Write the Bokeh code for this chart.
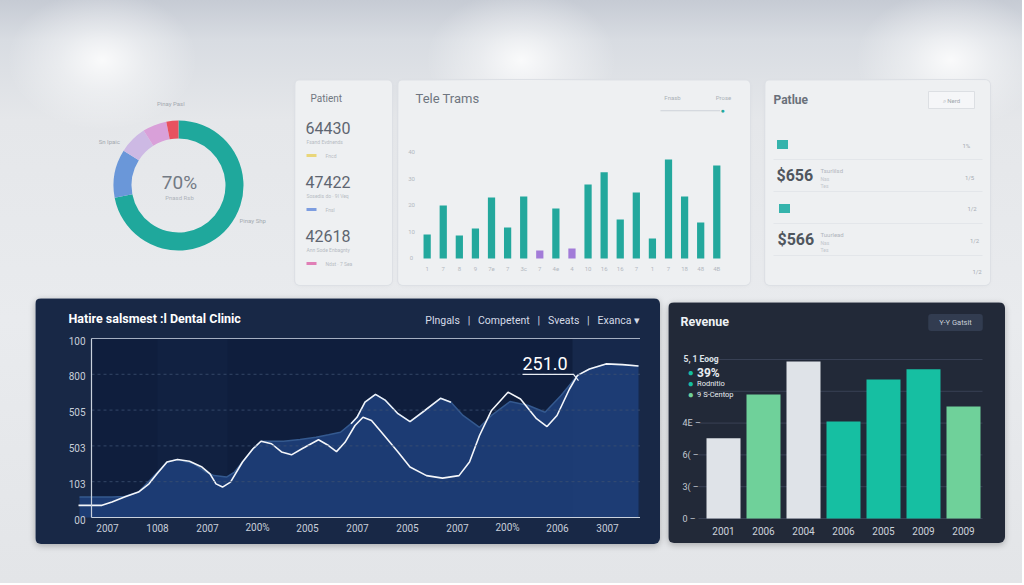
import math
from bokeh.plotting import figure
from bokeh.models import Label, Spacer, Range1d, BoxAnnotation, ColumnDataSource
from bokeh.layouts import row, column
from bokeh.embed import file_html
from bokeh.resources import INLINE
from bokeh.core.properties import value

FONT = "Roboto"
NB = "\u00a0"

# ---------------- data ----------------
donut_labels = ["Pinay Shp", "Sn Ipaic", "Pinay Lsd", "Pinay Rsd", "Pinay Pasl"]
donut_values = [72, 12, 7, 6, 3]
donut_colors = ["#1fa89c", "#6a97d9", "#cdb9e4", "#d9a0d9", "#e8525f"]
donut_center_text = "70%"
donut_center_sub = "Pnasd Rsb"

patient_title = "Patient"
patient_values = ["64430", "47422", "42618"]
patient_notes = ["Fsand Evdnends", "Sosedis do \u00b7 9l Veq", "Ann Sode Enbagnty"]
patient_keys = ["Fncd", "Fnsl", "Ndst \u00b7 7 Sea"]
patient_key_colors = ["#e9d67a", "#7d9de0", "#e07fb6"]

tele_title = "Tele Trams"
tele_labels = ["1", "7", "8", "9", "7e", "7", "3c", "7", "4e", "4", "10", "16", "16", "7", "1", "7", "18", "48", "4B"]
tele_values = [9.1, 20.0, 8.7, 11.3, 23.0, 11.7, 23.4, 3.0, 18.9, 3.8, 27.9, 32.5, 14.7, 24.9, 7.5, 37.4, 23.4, 13.6, 35.1]
tele_groups = ["a", "a", "a", "a", "a", "a", "a", "b", "a", "b", "a", "a", "a", "a", "a", "a", "a", "a", "a"]
tele_yticks = [0, 10, 20, 30, 40]
tele_ytick_labels = ["0", "10", "20", "30", "40"]

patlue_title = "Patlue"
patlue_amounts = ["$656", "$566"]
patlue_notes = ["Tsurlilsd", "Tuurlead"]
patlue_right = ["1%", "1/5", "1/2", "1/2", "1/2"]

line_title = "Hatire salsmest :l Dental Clinic"
line_menu_items = ["Plngals", "Competent", "Sveats", "Exanca \u25be"]
line_xlabels = ["2007", "1008", "2007", "200%", "2005", "2007", "2005", "2007", "200%", "2006", "3007"]
line_ylabels = ["00", "103", "503", "505", "800", "100"]
line_x = [-0.58, -0.11, 0.09, 0.34, 0.62, 0.83, 0.99, 1.19, 1.40, 1.64, 1.89, 2.05, 2.17, 2.30,
          2.46, 2.70, 2.91, 3.07, 3.28, 3.48, 3.68, 3.89, 4.22, 4.42, 4.58, 4.75, 4.95, 5.11,
          5.28, 5.48, 5.81, 6.05, 6.38, 6.70, 7.03, 7.24, 7.44, 7.68, 8.01, 8.26, 8.58, 8.79,
          8.99, 9.24, 9.40, 9.64, 9.97, 10.30, 10.62]
line_y = [0.34, 0.34, 0.43, 0.57, 0.71, 0.94, 1.22, 1.55, 1.62, 1.57, 1.41, 1.22, 0.94, 0.85,
          0.99, 1.55, 1.92, 2.13, 2.06, 1.83, 1.75, 1.92, 2.17, 2.01, 1.84, 2.10, 2.57, 2.80,
          2.71, 2.38, 1.83, 1.41, 1.17, 1.10, 1.17, 1.55, 2.29, 2.99, 3.50, 3.31, 2.76, 2.54,
          2.85, 3.59, 3.97, 4.15, 4.29, 4.27, 4.23]
area_x = [-0.56, 0.09, 0.34, 0.62, 0.91, 1.19, 1.40, 1.73, 1.97, 2.13, 2.38, 2.54, 2.70, 2.91,
          3.07, 3.52, 3.85, 4.17, 4.42, 4.66, 4.87, 4.99, 5.15, 5.36, 5.56, 5.81, 6.05, 6.30,
          6.66, 6.87, 7.11, 7.44, 7.68, 8.05, 8.42, 8.75, 9.07, 9.40, 9.64, 9.97, 10.30, 10.62]
area_y = [0.57, 0.57, 0.59, 0.71, 1.13, 1.55, 1.62, 1.50, 1.27, 1.17, 1.13, 1.27, 1.55, 1.92,
          2.13, 2.13, 2.18, 2.24, 2.31, 2.38, 2.62, 2.80, 3.22, 3.44, 3.27, 2.90, 2.68, 2.94,
          3.33, 3.22, 2.85, 2.52, 2.85, 3.24, 3.13, 2.94, 3.41, 3.97, 4.15, 4.29, 4.27, 4.23]
line_callout = "251.0"
line_callout_index = 44

rev_title = "Revenue"
rev_button = "Y-Y Gatsit"
rev_labels = ["2001", "2006", "2004", "2006", "2005", "2009", "2009"]
rev_values = [25.2, 39.0, 49.4, 30.5, 43.7, 46.9, 35.2]
rev_kinds = ["white", "green", "white", "teal", "teal", "teal", "green"]
rev_yticks = [0, 10, 20, 30, 40, 50]
rev_ytick_labels = ["0", "3(", "6(", "4E", "", ""]
rev_legend_head = "5, 1 Eoog"
rev_legend = ["39%", "Rodnitio", "9 S-Centop"]
rev_legend_kinds = ["teal", "teal", "green"]

# ---------------- styles ----------------
CARD = "#eef0f2"
TEAL = "#23a89d"
REV_COLORS = {"white": "#dfe3e8", "green": "#6fd19a", "teal": "#16bfa2"}
card_style = {"box-shadow": "0 0 0 1px #dde0e5, 0 1px 4px rgba(0,0,0,0.04)", "border-radius": "5px",
              "overflow": "hidden"}
dark_style = {"border-radius": "6px", "overflow": "hidden", "box-shadow": "0 2px 6px rgba(0,0,0,0.25)"}
donut_label_pos = {0: 0.32, 1: 0.84, 4: 0.985}


def make_fig(w, h, xr, yr, bg, styles=None):
    # the frame fills the whole figure; axes are drawn from the data with text glyphs
    p = figure(width=w, height=h, x_range=Range1d(*xr), y_range=Range1d(*yr),
               output_backend="svg", toolbar_location=None, min_border=0,
               x_axis_type=None, y_axis_type=None,
               background_fill_color=bg, border_fill_color=bg)
    p.outline_line_color = None
    p.grid.visible = False
    if styles:
        p.styles = styles
    return p


def txt(p, x, y, t, size, color, align="left", style="normal", baseline="middle"):
    xs = x if isinstance(x, list) else [x]
    ys = y if isinstance(y, list) else [y]
    ts = t if isinstance(t, list) else [t]
    p.text(x=xs, y=ys, text=ts, text_font=value(FONT), text_font_size=size,
           text_color=color, text_align=align, text_baseline=baseline, text_font_style=style)


def lab(p, x, y, t, size, color, align="left", style="normal", baseline="middle", **kw):
    p.add_layout(Label(x=x, y=y, text=t, text_font=FONT, text_font_size=size, text_color=color,
                       text_align=align, text_baseline=baseline, text_font_style=style, **kw))


# ---------------- donut ----------------
d = make_fig(210, 205, (0, 210), (0, 205), None)
cx, cy = 101, 100
tot = float(sum(donut_values))
starts, ends = [], []
acc = 0.0
for v in donut_values:
    starts.append(math.pi / 2 - 2 * math.pi * acc / tot)
    acc += v
    ends.append(math.pi / 2 - 2 * math.pi * acc / tot)
d.annular_wedge(x=cx, y=cy, inner_radius=47, outer_radius=65, start_angle="s", end_angle="e",
                direction="clock", fill_color="c", line_color=None,
                source=ColumnDataSource(dict(s=starts, e=ends, c=donut_colors)))
txt(d, cx + 1, cy + 3, donut_center_text, "19px", "#737a84", align="center")
txt(d, cx + 1, cy - 12, donut_center_sub, "6px", "#aeb3ba", align="center")
for i, f in donut_label_pos.items():
    a = math.pi / 2 - 2 * math.pi * f
    txt(d, cx + 82 * math.cos(a), cy + 82 * math.sin(a), donut_labels[i], "6px", "#a3a9b0", align="center")

# ---------------- patient ----------------
pt = make_fig(97, 205, (0, 97), (0, 205), CARD, styles=card_style)
txt(pt, 15, 187, patient_title, "10px", "#707781")
for i, v in enumerate(patient_values):
    y0 = 158 - i * 54
    txt(pt, 10, y0, v, "16px", "#5e6570")
    txt(pt, 11, y0 - 14, patient_notes[i], "5px", "#b7bcc3")
    pt.rect(x=[16], y=[y0 - 28], width=10, height=3, fill_color=patient_key_colors[i], line_color=None)
    txt(pt, 30, y0 - 28, patient_keys[i], "5px", "#b7bcc3")

# ---------------- tele trams ----------------
t = make_fig(352, 205, (-1.781, 20.096), (-10.19, 67.17), CARD, styles=card_style)
tcol = [TEAL if g == "a" else "#a27bd8" for g in tele_groups]
t.vbar(x=list(range(len(tele_values))), top=tele_values, width=0.45, fill_color=tcol, line_color=None)
txt(t, list(range(len(tele_labels))), [-3.9] * len(tele_labels), tele_labels, "6px", "#b3b8bf", align="center")
txt(t, [-0.973] * len(tele_yticks), tele_yticks, tele_ytick_labels, "6px", "#b3b8bf", align="center")
lab(t, -0.724, 60.4, tele_title, "13px", "#6f7680")
lab(t, 15.25, 60.8, "Fnasb", "6px", "#aab0b7", align="center")
lab(t, 18.42, 60.8, "Prose", "6px", "#aab0b7", align="center")
t.add_layout(BoxAnnotation(left=14.5, right=18.2, bottom=55.6, top=55.95, fill_color="#cdd2d8",
                           fill_alpha=1, line_color=None))
lab(t, 18.36, 55.8, "\u25cf", "7px", TEAL, align="center")

# ---------------- patlue ----------------
pl = make_fig(225, 205, (0, 225), (0, 205), CARD, styles=card_style)
txt(pl, 8, 186, patlue_title, "12px", "#6a707a", style="bold")
pl.rect(x=[186], y=[185.5], width=46, height=17, fill_color="#f5f6f8", line_color="#dcdfe3")
txt(pl, 186, 185.5, "\u2315 Nerd", "6px", "#a0a6ad", align="center")
for i, amt in enumerate(patlue_amounts):
    y0 = 110 - i * 64
    pl.rect(x=[17 + 2 * i], y=[y0 + 31], width=11, height=9, fill_color="#35b3ac", line_color=None)
    txt(pl, 11 + i, y0, amt, "16px", "#50565e", style="bold")
    txt(pl, 55, y0 + 5, patlue_notes[i], "6px", "#b0b5bc")
    txt(pl, 55, y0 - 3, "Nas", "5px", "#c2c6cc")
    txt(pl, 55, y0 - 10, "Tes", "5px", "#c2c6cc")
for i, s in enumerate(patlue_right):
    txt(pl, 197 + i * 2.5, 140 - i * 31.5, s, "6px", "#a7adb4")
for yy in (126, 94, 62, 30):
    pl.segment(x0=[8], y0=[yy], x1=[217], y1=[yy], line_color="#e3e6ea", line_width=1)

# ---------------- line chart ----------------
X0, X1 = -0.32, 10.65
L = make_fig(625, 246, (-1.44, 11.06), (-0.754, 6.117), "#182846", styles=dark_style)
L.add_layout(BoxAnnotation(left=X0, right=X1, bottom=0, top=5, fill_color="#0f1e3d",
                           fill_alpha=1, line_color=None, level="underlay"))
L.add_layout(BoxAnnotation(left=1.0, right=2.4, bottom=0, top=5, fill_color="#22375c",
                           fill_alpha=0.15, line_color=None, level="underlay"))
L.add_layout(BoxAnnotation(left=9.3, right=X1, bottom=0, top=5, fill_color="#27416e",
                           fill_alpha=0.3, line_color=None, level="underlay"))
L.varea(x=area_x, y1=0, y2=area_y, fill_color="#1e3d76", fill_alpha=0.95)
L.line(area_x, area_y, line_color="#34598f", line_width=1.5)
L.line(area_x[20:30], area_y[20:30], line_color="#eef2f8", line_width=1.6)
L.line(line_x, line_y, line_color="#f4f6fa", line_width=1.6)
ny = len(line_ylabels)
L.segment(x0=[X0] * (ny - 2), x1=[X1] * (ny - 2), y0=list(range(1, ny - 1)), y1=list(range(1, ny - 1)),
          line_color="#3d5072", line_dash="3 3", line_alpha=0.8)
L.segment(x0=[X0], x1=[X1], y0=[ny - 1], y1=[ny - 1], line_color="#a7b2c3", line_width=1)
L.segment(x0=[X0], x1=[X1], y0=[0], y1=[0], line_color="#c9d1dd", line_width=1.2)
L.segment(x0=[X0], x1=[X0], y0=[0], y1=[ny - 1], line_color="#c9d1dd", line_width=1.2)
txt(L, [-0.44] * ny, [k - 0.06 for k in range(ny)], line_ylabels, "10px", "#c7ced9", align="right")
txt(L, list(range(len(line_xlabels))), [-0.29] * len(line_xlabels), line_xlabels, "10px", "#c7ced9",
    align="center")
lab(L, -0.78, 5.56, line_title, "12.5px", "#ffffff", style="bold")
sep = NB * 3 + "|" + NB * 3
lab(L, X1, 5.5, sep.join(line_menu_items), "10.5px", "#d5dbe6", align="right")
ax_, ay_ = line_x[line_callout_index], line_y[line_callout_index]
lab(L, ax_ - 1.1, ay_ + 0.15, line_callout, "18px", "#ffffff", baseline="bottom")
L.line([ax_ - 1.1, ax_ - 0.08, ax_ + 0.02], [ay_ + 0.03, ay_ + 0.03, ay_ - 0.15],
       line_color="#e8ecf2", line_width=1.2)

# ---------------- revenue ----------------
R = make_fig(337, 241, (-1.375, 7.05), (-7.86, 67.92), "#222938", styles=dark_style)
R.segment(x0=[-0.625] * len(rev_yticks), x1=[6.475] * len(rev_yticks), y0=rev_yticks, y1=rev_yticks,
          line_color="#394155", line_width=1)
R.vbar(x=list(range(len(rev_values))), top=rev_values, width=0.85,
       fill_color=[REV_COLORS[k] for k in rev_kinds], line_color=None)
txt(R, [-1.025] * len(rev_yticks), rev_yticks, [s + " \u2013" if s else "" for s in rev_ytick_labels],
    "9px", "#c4cad3")
txt(R, list(range(len(rev_labels))), [-3.8] * len(rev_labels), rev_labels, "10px", "#ccd2da", align="center")
lab(R, -1.075, 61.9, rev_title, "12.5px", "#eef1f5", style="bold")
lab(R, 5.8, 61.6, rev_button, "7.5px", "#c9cfd8", align="center",
    background_fill_color="#323c50", padding=(11, 4), border_radius=3)
lab(R, -1.0, 50.3, rev_legend_head, "8.5px", "#dde2e8", style="bold")
for i, s in enumerate(rev_legend):
    yy = 45.9 - i * 3.5
    lab(R, -0.82, yy, "\u25cf", "10px", REV_COLORS[rev_legend_kinds[i]], align="center")
    lab(R, -0.66, yy, s, "12px" if i == 0 else "7.5px", "#e9edf2", style="bold" if i == 0 else "normal")

# ---------------- layout ----------------
top = row(Spacer(width=77, height=205), d, Spacer(width=8, height=205), pt,
          Spacer(width=6, height=205), t, Spacer(width=15, height=205), pl, Spacer(width=32, height=205))
bottom = row(Spacer(width=35, height=246), L, Spacer(width=8, height=246),
             column(Spacer(width=337, height=4), R), Spacer(width=17, height=246))
root = column(Spacer(width=1022, height=80), top, Spacer(width=1022, height=13), bottom,
              Spacer(width=1022, height=39))
lights = ", ".join(
    "radial-gradient(ellipse 95px 70px at %d%% 60px, rgba(255,255,255,0.85) 0%%, "
    "rgba(255,255,255,0.4) 45%%, rgba(255,255,255,0) 100%%)" % cxp
    for cxp in (10, 51, 93))
root.styles = {"background": lights + ", linear-gradient(180deg, #c6cbd4 0px, #d8dce2 40px, "
                                      "#e5e7ea 120px, #e9ebee 320px, #e3e5e8 100%)"}

open("out.html", "w").write(file_html(root, INLINE))
